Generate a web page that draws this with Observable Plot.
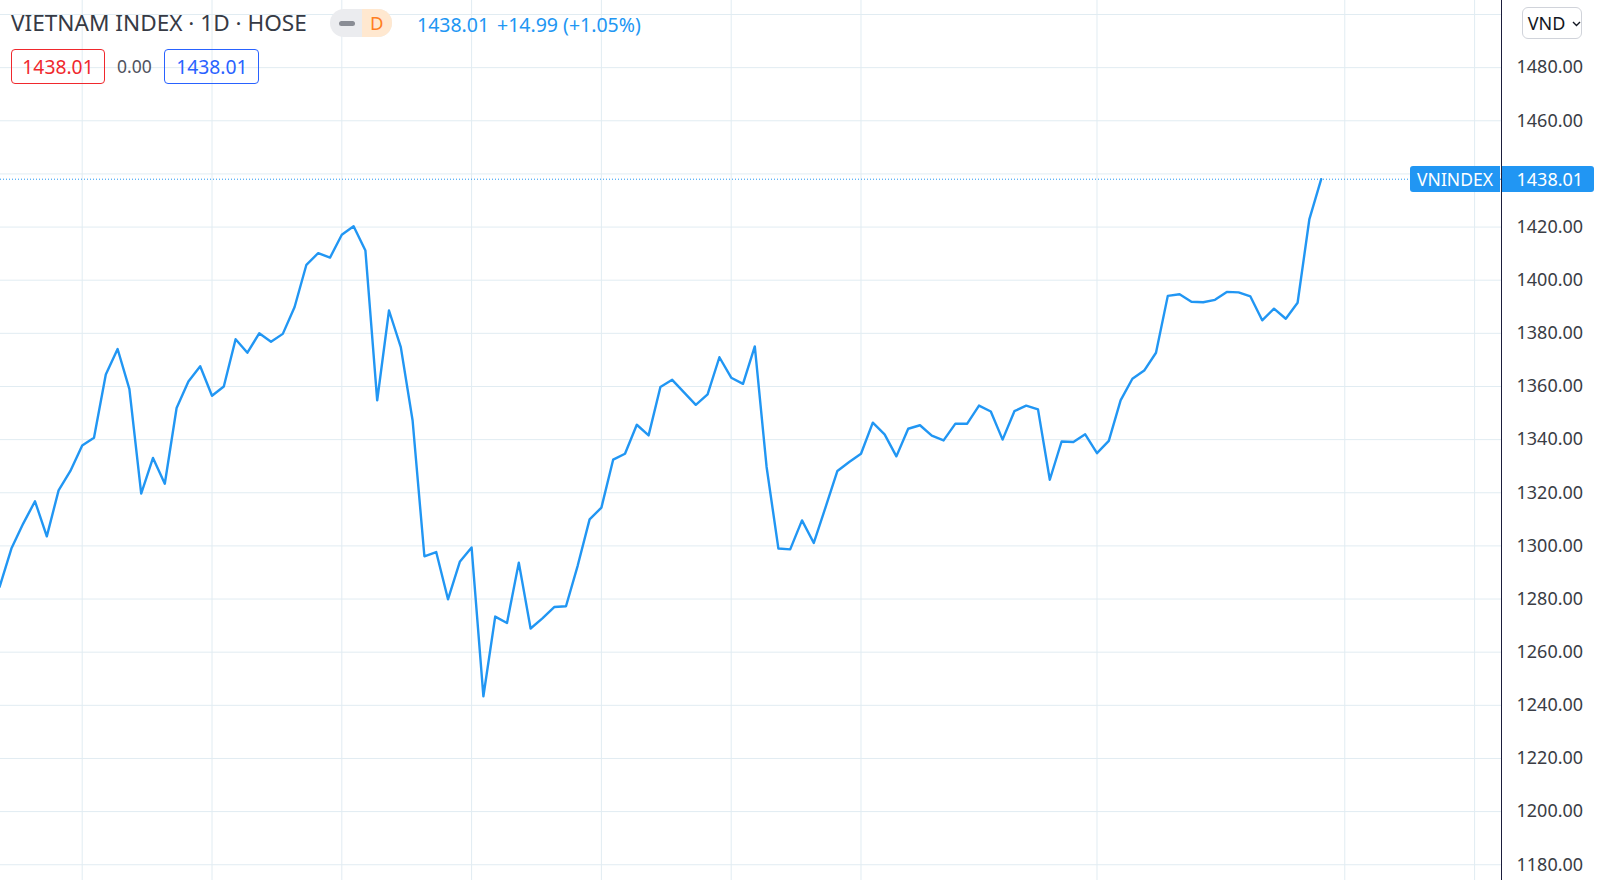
<!DOCTYPE html>
<html>
<head>
<meta charset="utf-8">
<script src="https://cdn.jsdelivr.net/npm/d3@7"></script>
<script src="https://cdn.jsdelivr.net/npm/@observablehq/plot@0.6"></script>
<style>
  html, body { margin: 0; padding: 0; background: #fff; }
  body { width: 1600px; height: 880px; overflow: hidden; font-family: "Noto Sans", sans-serif; }
  #wrap { position: relative; width: 1600px; height: 880px; }
  #chart svg { display: block; }
</style>
</head>
<body>
<div id="wrap"><div id="chart"></div></div>
<script>
// ---- data ----
const title = "VIETNAM INDEX · 1D · HOSE";
const intervalLabel = "D";
const currency = "VND";
const seriesName = "VNINDEX";
const values = [
  1284.6, 1299.0, 1308.4, 1316.8, 1303.6, 1320.9, 1328.2, 1337.8, 1340.7, 1364.5,
  1374.1, 1359.0, 1319.7, 1333.1, 1323.4, 1351.9, 1361.9, 1367.6, 1356.5, 1360.0,
  1377.8, 1372.7, 1380.0, 1376.8, 1379.8, 1389.9, 1405.8, 1410.2, 1408.5, 1417.1,
  1420.3, 1411.2, 1354.8, 1388.6, 1374.8, 1347.2, 1296.1, 1297.7, 1279.9, 1294.0,
  1299.4, 1243.4, 1273.4, 1271.0, 1293.7, 1268.9, 1272.7, 1277.0, 1277.3, 1292.7,
  1310.0, 1314.4, 1332.5, 1334.7, 1345.6, 1341.6, 1359.8, 1362.5, 1357.8, 1353.1,
  1357.0, 1371.0, 1363.3, 1361.0, 1375.1, 1329.7, 1299.0, 1298.7, 1309.6, 1301.1,
  1314.6, 1328.2, 1331.6, 1334.7, 1346.4, 1342.0, 1333.7, 1344.1, 1345.4, 1341.5,
  1339.7, 1346.0, 1346.0, 1352.8, 1350.6, 1340.0, 1350.7, 1352.8, 1351.4, 1324.9,
  1339.3, 1339.1, 1342.0, 1334.9, 1339.5, 1354.8, 1362.9, 1366.0, 1372.7, 1394.1,
  1394.7, 1391.9, 1391.7, 1392.6, 1395.6, 1395.4, 1393.9, 1384.9, 1389.3, 1385.5,
  1391.5, 1423.02, 1438.01
];
const timeGridIdx = [7, 18, 29, 40, 51, 62, 73, 93, 114, 125];
const yGrid = [1180, 1200, 1220, 1240, 1260, 1280, 1300, 1320, 1340, 1360, 1380, 1400, 1420, 1440, 1460, 1480, 1500];
// labels hidden behind the price label / currency button are left out
const yTickLabels = [1180, 1200, 1220, 1240, 1260, 1280, 1300, 1320, 1340, 1360, 1380, 1400, 1420, 1460, 1480];
const xDomain = [0.076, 127.28];
const yDomain = [1174.07, 1505.27];

const data = values.map((v, i) => ({i, v}));
const last = values[values.length - 1];
const prev = values[values.length - 2];
const change = last - prev;
const pct = change / prev * 100;
const fmt = d => d.toFixed(2);

const BLUE = "#2196f3";
const GRID = "#e1ecf2";

const chart = Plot.plot({
  width: 1600, height: 880,
  marginLeft: 0, marginRight: 99, marginTop: 0, marginBottom: 0,
  style: {fontFamily: '"Noto Sans", sans-serif', fontSize: "18px", color: "#3a3d45", background: "#fff", overflow: "visible"},
  x: {domain: xDomain, axis: null, label: null},
  y: {domain: yDomain, axis: null, label: null},
  marks: [
    Plot.ruleX(timeGridIdx, {stroke: GRID, strokeWidth: 1}),
    Plot.ruleY(yGrid, {stroke: GRID, strokeWidth: 1}),
    Plot.ruleY([last], {stroke: BLUE, strokeDasharray: "1,2", strokeWidth: 1}),
    Plot.line(data, {x: "i", y: "v", stroke: BLUE, strokeWidth: 2.4, strokeLinejoin: "round", clip: true}),
    Plot.ruleX([xDomain[1]], {stroke: "#1b1e3c", strokeWidth: 1}),
    Plot.axisY(yTickLabels, {anchor: "right", label: null, tickSize: 0, tickPadding: 15, tickFormat: fmt, fontSize: 18})
  ]
});
const wrap = document.getElementById("wrap");
document.getElementById("chart").appendChild(chart);
const yScale = chart.scale("y");

function el(tag, css, text) {
  const e = document.createElement(tag);
  e.style.cssText = css;
  if (text != null) e.textContent = text;
  wrap.appendChild(e);
  return e;
}

// title
el("div", "position:absolute;white-space:nowrap;left:11px;top:11.5px;font-size:22.6px;line-height:22.6px;color:#363a45;", title);

// interval pill
const pill = el("div", "position:absolute;left:330px;top:9.3px;width:62px;height:28px;border-radius:14px;overflow:hidden;background:#ebecef;");
const dash = document.createElement("div");
dash.style.cssText = "position:absolute;left:9px;top:11.5px;width:16px;height:5px;border-radius:3px;background:#8a8d95;";
pill.appendChild(dash);
const dpart = document.createElement("div");
dpart.style.cssText = "position:absolute;left:31.7px;top:0;width:30.3px;height:28px;background:#ffe8d0;color:#ff7f1f;font-size:18.5px;line-height:28px;text-align:center;";
dpart.textContent = intervalLabel;
pill.appendChild(dpart);

// price / change
el("div", `position:absolute;white-space:nowrap;left:417px;top:15.4px;font-size:19.5px;line-height:19.5px;color:${BLUE};`, fmt(last));
el("div", `position:absolute;white-space:nowrap;left:497px;top:15.4px;font-size:19.5px;line-height:19.5px;color:${BLUE};`,
   `${change >= 0 ? "+" : ""}${fmt(change)} (${pct >= 0 ? "+" : ""}${fmt(pct)}%)`);

// row 2
el("div", "position:absolute;box-sizing:border-box;left:11px;top:49.3px;width:94px;height:35px;border:1px solid #f0282d;border-radius:4px;text-align:center;font-size:19.3px;line-height:33px;color:#f0282d;", fmt(last));
el("div", "position:absolute;white-space:nowrap;left:117px;top:57.1px;font-size:17.5px;line-height:19px;color:#50535e;", fmt(0));
el("div", "position:absolute;box-sizing:border-box;left:164.3px;top:49.3px;width:95px;height:35px;border:1px solid #2962ff;border-radius:4px;text-align:center;font-size:19.3px;line-height:33px;color:#2962ff;", fmt(last));

// currency button
const vnd = el("div", "position:absolute;box-sizing:border-box;left:1521.7px;top:7.3px;width:60px;height:32px;border:1px solid #d0d3da;border-radius:6px;background:#fff;font-size:18px;line-height:30px;color:#131722;padding-left:5px;");
vnd.appendChild(document.createTextNode(currency));
const chev = document.createElementNS("http://www.w3.org/2000/svg", "svg");
chev.setAttribute("width", "9"); chev.setAttribute("height", "6");
chev.style.cssText = "position:absolute;left:49px;top:12.5px;";
chev.innerHTML = '<path d="M1 1 L4.5 4.5 L8 1" fill="none" stroke="#131722" stroke-width="1.4"/>';
vnd.appendChild(chev);

// last price labels
const py = yScale.apply(last);
el("div", `position:absolute;left:1410px;top:${py - 12.8}px;width:90px;height:26px;border-radius:3px 0 0 3px;background:${BLUE};color:#fff;font-size:17.5px;line-height:26px;text-align:center;`, seriesName);
el("div", `position:absolute;box-sizing:border-box;left:1502px;top:${py - 12.8}px;width:91.5px;height:26px;border-radius:0 3px 3px 0;background:${BLUE};color:#fff;font-size:18px;line-height:26px;padding-left:14.5px;`, fmt(last));
</script>
</body>
</html>
